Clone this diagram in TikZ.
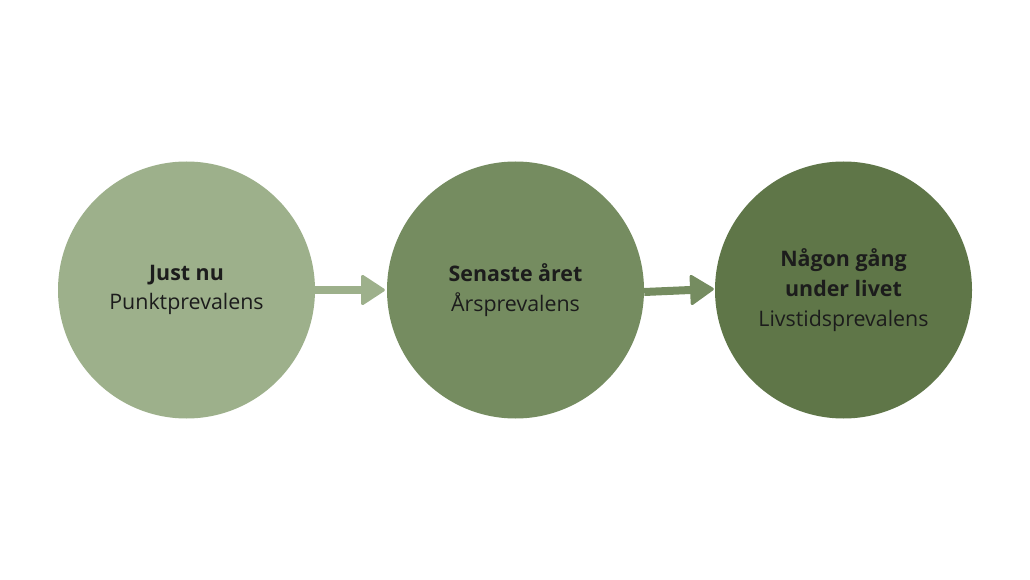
\documentclass[tikz,border=0pt]{standalone}
\usepackage{fontspec}
\setmainfont{Open Sans}
\usetikzlibrary{arrows.meta,calc}
\definecolor{gA}{HTML}{9DB08B}
\definecolor{gB}{HTML}{758C60}
\definecolor{gC}{HTML}{5F7648}
\definecolor{txt}{HTML}{1C1C1C}
\tikzset{
  blob/.style={circle, minimum size=257pt, inner sep=0pt, draw=none, text=txt,
    align=center, font=\fontsize{21.4}{29.8}\selectfont},
  conn/.style={line width=8pt, -{Triangle[width=32pt,length=25pt,round,line width=3pt]}}
}
\begin{document}
\begin{tikzpicture}[x=1pt,y=1pt]
\useasboundingbox (0,0) rectangle (1030,579);
\fill[white] (0,0) rectangle (1030,579);
\node[blob, fill=gA] (c1) at (186.5,289) {\textbf{Just nu}\\Punktprevalens};
\node[blob, fill=gB] (c2) at (515.5,289) {\textbf{Senaste året}\\Årsprevalens};
\node[blob, fill=gC] (c3) at (843.5,289) {\textbf{Någon gång}\\\textbf{under livet}\\Livstidsprevalens};
\draw[conn, draw=gA, fill=gA] (c1.east) -- ([xshift=-2pt]c2.west);
\draw[conn, draw=gB, fill=gB] ([yshift=-2pt]c2.east) -- ([xshift=-1pt,yshift=1pt]c3.west);
\end{tikzpicture}
\end{document}
